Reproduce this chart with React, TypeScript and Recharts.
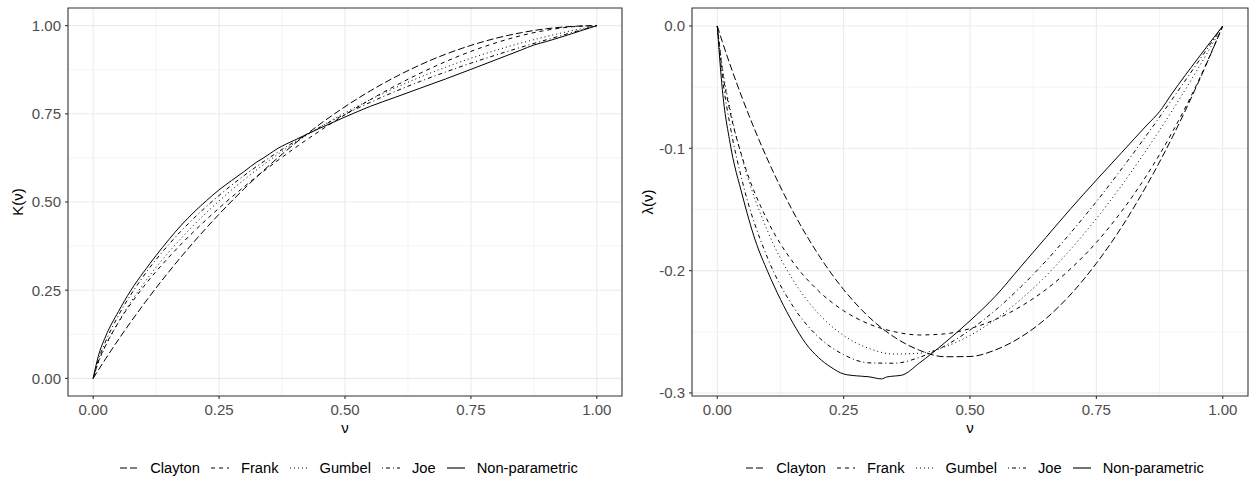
import React from 'react';
import { LineChart, Line, XAxis, YAxis, CartesianGrid, ReferenceArea } from 'recharts';

// grid of v values used for the parametric copulas
const vGrid = [0, 0.01, 0.025, 0.05, 0.1, 0.15, 0.2, 0.25, 0.3, 0.35, 0.4, 0.45, 0.5, 0.55, 0.6, 0.65, 0.7, 0.75, 0.8, 0.85, 0.9, 0.95, 1];

// K(v)
const claytonK = [0, 0.0229, 0.0562, 0.1096, 0.2096, 0.3018, 0.3869, 0.4655, 0.5379, 0.6043, 0.6651, 0.7204, 0.7702, 0.8149, 0.8545, 0.8893, 0.9191, 0.944, 0.9644, 0.98, 0.9912, 0.9977, 1];
const frankK = [0, 0.0463, 0.0944, 0.1583, 0.2596, 0.3432, 0.4165, 0.4828, 0.5436, 0.5999, 0.6526, 0.7017, 0.7474, 0.79, 0.8294, 0.8655, 0.8981, 0.927, 0.9515, 0.9718, 0.987, 0.9966, 1];
const gumbelK = [0, 0.0436, 0.0923, 0.1593, 0.2681, 0.3577, 0.435, 0.503, 0.5636, 0.6182, 0.6675, 0.7123, 0.753, 0.79, 0.8237, 0.8544, 0.8822, 0.9075, 0.9303, 0.9508, 0.9692, 0.9856, 1];
const joeK = [0, 0.0512, 0.1056, 0.1777, 0.2901, 0.3793, 0.4542, 0.5187, 0.5754, 0.6257, 0.6709, 0.7116, 0.7486, 0.7824, 0.8135, 0.8422, 0.8687, 0.8936, 0.9168, 0.9389, 0.9599, 0.9802, 1];

// lambda(v)
const claytonL = [0, -0.0129, -0.0312, -0.0596, -0.1096, -0.1518, -0.1869, -0.2155, -0.2379, -0.2543, -0.2651, -0.2704, -0.2702, -0.2649, -0.2545, -0.2393, -0.2191, -0.194, -0.1644, -0.13, -0.0912, -0.0477, 0];
const frankL = [0, -0.0363, -0.0694, -0.1083, -0.1596, -0.1932, -0.2165, -0.2328, -0.2436, -0.2499, -0.2526, -0.2517, -0.2474, -0.24, -0.2294, -0.2155, -0.1981, -0.177, -0.1515, -0.1218, -0.087, -0.0466, 0];
const gumbelL = [0, -0.0336, -0.0673, -0.1093, -0.1681, -0.2077, -0.235, -0.253, -0.2636, -0.2682, -0.2675, -0.2623, -0.253, -0.24, -0.2237, -0.2044, -0.1822, -0.1575, -0.1303, -0.1008, -0.0692, -0.0356, 0];
const joeL = [0, -0.0412, -0.0806, -0.1277, -0.1901, -0.2293, -0.2542, -0.2687, -0.2754, -0.2757, -0.2709, -0.2616, -0.2486, -0.2324, -0.2135, -0.1922, -0.1687, -0.1436, -0.1168, -0.0889, -0.0599, -0.0302, 0];

// empirical (non-parametric) estimate has its own v points
const npV = [0, 0.01, 0.025, 0.05, 0.075, 0.1, 0.125, 0.15, 0.175, 0.2, 0.225, 0.25, 0.275, 0.3, 0.325, 0.335, 0.35, 0.365, 0.4, 0.45, 0.5, 0.55, 0.6, 0.65, 0.7, 0.75, 0.8, 0.85, 0.875, 0.9, 0.95, 1];
const npK = [0, 0.062, 0.12, 0.189, 0.25, 0.301, 0.3485, 0.393, 0.4345, 0.471, 0.504, 0.5345, 0.561, 0.5868, 0.6135, 0.622, 0.6362, 0.6505, 0.6755, 0.709, 0.741, 0.771, 0.797, 0.823, 0.849, 0.876, 0.9035, 0.931, 0.945, 0.955, 0.977, 1];
const npL = [0, -0.052, -0.095, -0.139, -0.175, -0.201, -0.2235, -0.243, -0.2595, -0.271, -0.279, -0.2845, -0.286, -0.2868, -0.2885, -0.287, -0.2862, -0.2855, -0.2755, -0.259, -0.241, -0.221, -0.197, -0.173, -0.149, -0.126, -0.1035, -0.081, -0.07, -0.055, -0.027, 0];

const xTicks = [0, 0.25, 0.5, 0.75, 1];
const xMinor = [0.125, 0.375, 0.625, 0.875];
const kTicks = [0, 0.25, 0.5, 0.75, 1];
const kMinor = [0.125, 0.375, 0.625, 0.875];
const lTicks = [-0.3, -0.2, -0.1, 0];
const lMinor = [-0.25, -0.15, -0.05];

const seriesNames = ['Clayton', 'Frank', 'Gumbel', 'Joe', 'Non-parametric'];
const dashes = ['7 3', '4 4', '1 3', '1 3 4 3', ''];

const FONT = '"Liberation Sans", Arial, sans-serif';

const toRows = (xs: number[], ys: number[]) => xs.map((v, i) => ({ v, y: ys[i] }));

const kSeries = [
  toRows(vGrid, claytonK),
  toRows(vGrid, frankK),
  toRows(vGrid, gumbelK),
  toRows(vGrid, joeK),
  toRows(npV, npK),
];
const lSeries = [
  toRows(vGrid, claytonL),
  toRows(vGrid, frankL),
  toRows(vGrid, gumbelL),
  toRows(vGrid, joeL),
  toRows(npV, npL),
];

const tickStyle = { fill: '#4D4D4D', fontSize: 15, fontFamily: FONT };

interface PanelProps {
  left: number;
  width: number;
  yWidth: number;
  rightMargin: number;
  yDomain: [number, number];
  yTicks: number[];
  yMinor: number[];
  yFmt: (v: number) => string;
  data: { v: number; y: number }[][];
}

const Panel: React.FC<PanelProps> = ({ left, width, yWidth, rightMargin, yDomain, yTicks, yMinor, yFmt, data }) => (
  <div style={{ position: 'absolute', left, top: 0 }}>
    <LineChart width={width} height={478} margin={{ top: 8, right: rightMargin, left: 0, bottom: 52 }}>
      <CartesianGrid stroke="#EBEBEB" strokeWidth={0.55} horizontalValues={yMinor} verticalValues={xMinor} />
      <CartesianGrid stroke="#EBEBEB" strokeWidth={1.1} horizontalValues={yTicks} verticalValues={xTicks} />
      <XAxis
        dataKey="v"
        type="number"
        domain={[-0.05, 1.05]}
        ticks={xTicks}
        allowDataOverflow
        height={30}
        axisLine={false}
        tickSize={3}
        tickMargin={5}
        tickLine={{ stroke: '#333333', strokeWidth: 1.1 }}
        tick={tickStyle}
        tickFormatter={(v: number) => v.toFixed(2)}
      />
      <YAxis
        type="number"
        domain={yDomain}
        ticks={yTicks}
        allowDataOverflow
        width={yWidth}
        axisLine={false}
        tickSize={3}
        tickMargin={4}
        tickLine={{ stroke: '#333333', strokeWidth: 1.1 }}
        tick={tickStyle}
        tickFormatter={yFmt}
      />
      {data.map((rows, i) => (
        <Line
          key={seriesNames[i]}
          data={rows}
          dataKey="y"
          name={seriesNames[i]}
          type="monotone"
          stroke="#000000"
          strokeWidth={1}
          strokeDasharray={dashes[i] || undefined}
          dot={false}
          activeDot={false}
          isAnimationActive={false}
        />
      ))}
      <ReferenceArea
        x1={-0.05}
        x2={1.05}
        y1={yDomain[0]}
        y2={yDomain[1]}
        fill="none"
        fillOpacity={0}
        stroke="#333333"
        strokeWidth={1.1}
        ifOverflow="visible"
      />
    </LineChart>
  </div>
);

const LegendRow: React.FC<{ left: number; width: number }> = ({ left, width }) => (
  <div
    style={{
      position: 'absolute',
      left,
      width,
      top: 458,
      height: 20,
      display: 'flex',
      justifyContent: 'center',
      alignItems: 'center',
      fontSize: 14.7,
      color: '#000',
      whiteSpace: 'nowrap',
    }}
  >
    {seriesNames.map((name, i) => (
      <div key={name} style={{ display: 'flex', alignItems: 'center', marginRight: i < 4 ? 11 : 0 }}>
        <svg width={18} height={10}>
          <line x1={0} y1={5} x2={18} y2={5} stroke="#000" strokeWidth={1.1} strokeDasharray={dashes[i] || undefined} />
        </svg>
        <span style={{ marginLeft: 12 }}>{name}</span>
      </div>
    ))}
  </div>
);

const AxisTitle: React.FC<{ x: number; y: number; text: string; rotate?: boolean }> = ({ x, y, text, rotate }) => (
  <div
    style={{
      position: 'absolute',
      left: x - 40,
      top: y - 9,
      width: 80,
      height: 18,
      lineHeight: '18px',
      textAlign: 'center',
      fontSize: 15,
      color: '#000',
      transform: rotate ? 'rotate(-90deg)' : undefined,
    }}
  >
    {text}
  </div>
);

export default function App() {
  return (
    <div style={{ position: 'fixed', left: 0, top: 0, width: 1249, height: 478, background: '#fff', fontFamily: FONT, overflow: 'hidden' }}>
      <Panel
        left={0}
        width={630}
        yWidth={68}
        rightMargin={8}
        yDomain={[-0.05, 1.05]}
        yTicks={kTicks}
        yMinor={kMinor}
        yFmt={(v: number) => v.toFixed(2)}
        data={kSeries}
      />
      <Panel
        left={630}
        width={619}
        yWidth={62}
        rightMargin={1}
        yDomain={[-0.3025, 0.0147]}
        yTicks={lTicks}
        yMinor={lMinor}
        yFmt={(v: number) => v.toFixed(1)}
        data={lSeries}
      />
      <AxisTitle x={17.5} y={202} text="K(ν)" rotate />
      <AxisTitle x={648} y={202} text="λ(ν)" rotate />
      <AxisTitle x={345} y={428} text="ν" />
      <AxisTitle x={970} y={428} text="ν" />
      <LegendRow left={72} width={554} />
      <LegendRow left={697} width={556} />
    </div>
  );
}
